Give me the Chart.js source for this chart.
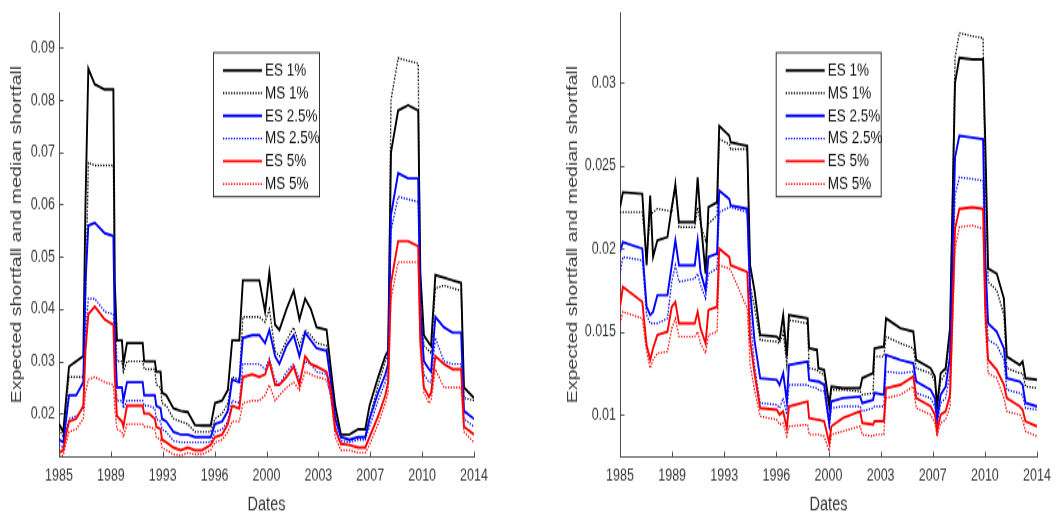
<!DOCTYPE html>
<html lang="en">
<head>
<meta charset="UTF-8">
<title>Expected shortfall and median shortfall</title>
<script src="https://cdn.jsdelivr.net/npm/chart.js"></script>
<style>
  body { margin: 0; background: #fff; }
  #wrap { position: relative; width: 1059px; height: 513px; }
  /* each canvas is drawn 380px high and shown 513px high */
  #wrap canvas { position: absolute; top: 0; height: 513px; }
</style>
</head>
<body>
<div id="wrap">
  <canvas id="leftChart" width="530" height="380" style="left:0; width:530px; height:513px"></canvas>
  <canvas id="rightChart" width="529" height="380" style="left:530px; width:529px; height:513px"></canvas>
</div>

<script>
// ---- data -------------------------------------------------------------
const seriesLabels = ['ES 1%', 'MS 1%', 'ES 2.5%', 'MS 2.5%', 'ES 5%', 'MS 5%'];
const xTickLabels = ['1985', '1989', '1993', '1996', '2000', '2003', '2007', '2010', '2014'];
const leftYTicks = [0.02, 0.03, 0.04, 0.05, 0.06, 0.07, 0.08, 0.09];
const rightYTicks = [0.01, 0.015, 0.02, 0.025, 0.03];

// left panel
const leftDates = [
  1985.0, 1985.3, 1985.5, 1985.7, 1986.2, 1986.7, 1986.85, 1987.05, 1987.5, 1988.2,
  1988.8, 1988.9, 1989.05, 1989.4, 1989.5, 1989.75, 1990.3, 1990.85, 1990.95, 1991.3,
  1991.7, 1991.8, 1992.1, 1992.2, 1992.5, 1993.0, 1993.5, 1994.0, 1994.5, 1995.0,
  1995.6, 1995.9, 1996.4, 1996.8, 1997.1, 1997.6, 1997.85, 1998.5, 1999.0, 1999.4,
  1999.7, 2000.1, 2000.4, 2000.9, 2001.4, 2001.8, 2002.2, 2002.6, 2003.0, 2003.7,
  2004.0, 2004.3, 2004.7, 2005.3, 2005.9, 2006.4, 2006.7, 2007.3, 2007.8, 2008.0,
  2008.2, 2008.7, 2009.4, 2010.1, 2010.25, 2010.5, 2010.85, 2011.0, 2011.3, 2011.9,
  2012.5, 2013.1, 2013.3, 2014.0
];
const leftEs1 = [
  0.018, 0.0165, 0.023, 0.029, 0.030, 0.031, 0.060, 0.086, 0.083, 0.082,
  0.082, 0.045, 0.034, 0.034, 0.0295, 0.0335, 0.0335, 0.0335, 0.030, 0.030,
  0.030, 0.028, 0.028, 0.024, 0.0235, 0.021, 0.0205, 0.0203, 0.0178, 0.0177,
  0.0177, 0.022, 0.0225, 0.0245, 0.034, 0.034, 0.0455, 0.0455, 0.0455, 0.0395,
  0.047, 0.037, 0.036, 0.040, 0.0435, 0.038, 0.042, 0.040, 0.0365, 0.036,
  0.0285, 0.0215, 0.016, 0.016, 0.017, 0.017, 0.0215, 0.027, 0.031, 0.032,
  0.070, 0.078, 0.079, 0.078, 0.047, 0.035, 0.0335, 0.033, 0.0465, 0.046,
  0.0455, 0.045, 0.025, 0.023
];
const leftMs1 = [
  0.017, 0.0155, 0.0215, 0.027, 0.027, 0.027, 0.040, 0.068, 0.0675, 0.0675,
  0.0675, 0.040, 0.030, 0.030, 0.028, 0.030, 0.030, 0.030, 0.0285, 0.0285,
  0.0285, 0.0255, 0.025, 0.022, 0.0215, 0.019, 0.0185, 0.018, 0.0165, 0.0165,
  0.0165, 0.019, 0.020, 0.022, 0.027, 0.0265, 0.0385, 0.0385, 0.0385, 0.0375,
  0.040, 0.032, 0.031, 0.034, 0.0365, 0.033, 0.036, 0.035, 0.0335, 0.033,
  0.027, 0.020, 0.0155, 0.015, 0.0155, 0.0155, 0.019, 0.0255, 0.030, 0.031,
  0.080, 0.088, 0.0875, 0.087, 0.045, 0.033, 0.032, 0.0315, 0.044, 0.0445,
  0.044, 0.0435, 0.023, 0.0225
];
const leftEs25 = [
  0.015, 0.0145, 0.019, 0.0235, 0.0235, 0.026, 0.045, 0.056, 0.0565, 0.0545,
  0.054, 0.035, 0.025, 0.025, 0.0225, 0.026, 0.026, 0.026, 0.0235, 0.0235,
  0.0235, 0.0215, 0.021, 0.019, 0.0185, 0.0165, 0.016, 0.016, 0.0155, 0.0155,
  0.0155, 0.018, 0.0185, 0.0205, 0.0265, 0.026, 0.0345, 0.035, 0.035, 0.0335,
  0.036, 0.031, 0.0295, 0.033, 0.035, 0.031, 0.0355, 0.034, 0.0325, 0.032,
  0.026, 0.019, 0.0155, 0.015, 0.0155, 0.0155, 0.019, 0.024, 0.0275, 0.0295,
  0.058, 0.066, 0.065, 0.065, 0.040, 0.030, 0.0285, 0.028, 0.0385, 0.0365,
  0.0355, 0.0355, 0.0205, 0.019
];
const leftMs25 = [
  0.014, 0.0135, 0.017, 0.019, 0.0195, 0.021, 0.035, 0.042, 0.042, 0.0395,
  0.039, 0.030, 0.0225, 0.0225, 0.021, 0.0225, 0.0225, 0.0225, 0.0215, 0.0215,
  0.021, 0.019, 0.0185, 0.017, 0.0165, 0.0148, 0.0145, 0.0145, 0.0145, 0.0145,
  0.0145, 0.0165, 0.017, 0.0185, 0.0225, 0.022, 0.0295, 0.0295, 0.0295, 0.0285,
  0.0305, 0.0265, 0.0255, 0.028, 0.0295, 0.0265, 0.030, 0.0295, 0.028, 0.0275,
  0.023, 0.0175, 0.0148, 0.0145, 0.015, 0.015, 0.0175, 0.0225, 0.026, 0.028,
  0.055, 0.0615, 0.061, 0.0605, 0.036, 0.0275, 0.026, 0.026, 0.0345, 0.030,
  0.0295, 0.0295, 0.019, 0.0175
];
const leftEs5 = [
  0.0125, 0.013, 0.016, 0.0185, 0.019, 0.0215, 0.032, 0.039, 0.0405, 0.038,
  0.037, 0.027, 0.0195, 0.0185, 0.0175, 0.0215, 0.0215, 0.0215, 0.020, 0.020,
  0.019, 0.0175, 0.017, 0.015, 0.0145, 0.0135, 0.013, 0.0135, 0.013, 0.013,
  0.014, 0.0155, 0.016, 0.018, 0.0215, 0.021, 0.027, 0.0275, 0.027, 0.0275,
  0.030, 0.0255, 0.0255, 0.027, 0.029, 0.0255, 0.031, 0.0295, 0.029, 0.028,
  0.0245, 0.017, 0.0142, 0.014, 0.0135, 0.0135, 0.0155, 0.0195, 0.0235, 0.026,
  0.045, 0.053, 0.053, 0.052, 0.034, 0.025, 0.0232, 0.024, 0.031, 0.0295,
  0.0285, 0.0285, 0.0175, 0.016
];
const leftMs5 = [
  0.012, 0.012, 0.0145, 0.0165, 0.017, 0.019, 0.024, 0.0265, 0.027, 0.026,
  0.0255, 0.021, 0.017, 0.0165, 0.0155, 0.018, 0.018, 0.018, 0.0175, 0.0175,
  0.017, 0.0155, 0.015, 0.0135, 0.013, 0.0122, 0.012, 0.0125, 0.0122, 0.0122,
  0.013, 0.0145, 0.015, 0.0165, 0.0185, 0.0185, 0.022, 0.0225, 0.0225, 0.0235,
  0.0255, 0.0225, 0.0235, 0.025, 0.026, 0.0245, 0.028, 0.0275, 0.027, 0.0265,
  0.0235, 0.0155, 0.013, 0.013, 0.0125, 0.0125, 0.014, 0.018, 0.022, 0.024,
  0.042, 0.049, 0.049, 0.049, 0.032, 0.024, 0.022, 0.0225, 0.0285, 0.025,
  0.025, 0.025, 0.0165, 0.0145
];

// right panel
const rightDates = [
  1985.0, 1985.2, 1986.55, 1986.85, 1987.1, 1987.3, 1987.6, 1988.3, 1988.6, 1988.85,
  1989.1, 1990.2, 1990.4, 1990.6, 1990.95, 1991.15, 1991.75, 1991.9, 1992.6, 1992.7,
  1993.85, 1994.05, 1994.35, 1994.75, 1995.9, 1996.1, 1996.35, 1996.6, 1996.75, 1998.05,
  1998.15, 1998.7, 1998.8, 1999.2, 1999.55, 1999.7, 2000.5, 2001.7, 2001.85, 2002.6,
  2002.7, 2003.35, 2003.5, 2004.5, 2005.4, 2005.6, 2006.6, 2006.9, 2007.05, 2007.3,
  2007.65, 2007.95, 2008.3, 2008.6, 2009.5, 2010.25, 2010.4, 2010.6, 2011.2, 2011.7,
  2011.9, 2012.8, 2013.0, 2013.2, 2014.0
];
const rightEs1 = [
  0.0225, 0.0234, 0.0233, 0.019, 0.0232, 0.0195, 0.0205, 0.0207, 0.0225, 0.0238,
  0.0216, 0.0216, 0.0243, 0.0218, 0.0185, 0.0225, 0.0228, 0.0274, 0.0268, 0.0264,
  0.0262, 0.019, 0.0175, 0.0148, 0.0147, 0.0145, 0.016, 0.0135, 0.016, 0.0158,
  0.014, 0.0139, 0.0128, 0.0127, 0.0106, 0.0117, 0.0116, 0.0116, 0.0122, 0.0125,
  0.014, 0.0141, 0.0158, 0.0152, 0.015, 0.0133, 0.0128, 0.0123, 0.0105, 0.0125,
  0.0128, 0.0152, 0.030, 0.0315, 0.0314, 0.0314, 0.0265, 0.0188, 0.0185, 0.017,
  0.0135, 0.013, 0.0132, 0.0122, 0.0121
];
const rightMs1 = [
  0.0222, 0.0222, 0.0222, 0.0195, 0.022, 0.0222, 0.0224, 0.0223, 0.0222, 0.024,
  0.0213, 0.0213, 0.0225, 0.0215, 0.0205, 0.0215, 0.022, 0.0266, 0.0263, 0.026,
  0.026, 0.0178, 0.0165, 0.0145, 0.0144, 0.0143, 0.015, 0.013, 0.0157, 0.0155,
  0.0128, 0.0127, 0.0126, 0.0124, 0.0104, 0.0115, 0.0115, 0.0114, 0.0112, 0.0113,
  0.0135, 0.0135, 0.0147, 0.0143, 0.014, 0.0128, 0.0125, 0.012, 0.0103, 0.012,
  0.0125, 0.0148, 0.0315, 0.033, 0.0328, 0.0327, 0.024, 0.018, 0.0175, 0.016,
  0.0128, 0.0125, 0.0125, 0.0117, 0.0116
];
const rightEs25 = [
  0.0198, 0.0204, 0.0200, 0.0165, 0.0160, 0.0162, 0.0172, 0.0172, 0.0190, 0.0205,
  0.0190, 0.0190, 0.0205, 0.0186, 0.0175, 0.0195, 0.0197, 0.0235, 0.0230, 0.0226,
  0.0224, 0.0175, 0.0145, 0.0122, 0.0121, 0.0118, 0.0125, 0.0108, 0.0130, 0.0132,
  0.0121, 0.0120, 0.0120, 0.0118, 0.0095, 0.0108, 0.0110, 0.0111, 0.0107, 0.0109,
  0.0113, 0.0112, 0.0136, 0.0133, 0.0131, 0.0120, 0.0115, 0.0110, 0.0097, 0.0112,
  0.0117, 0.0135, 0.0255, 0.0268, 0.0267, 0.0266, 0.0195, 0.0155, 0.0150, 0.0140,
  0.0122, 0.0120, 0.0118, 0.0107, 0.0105
];
const rightMs25 = [
  0.0185, 0.0195, 0.0193, 0.0160, 0.0155, 0.0155, 0.0155, 0.0158, 0.0180, 0.0190,
  0.0180, 0.0182, 0.0185, 0.0178, 0.0170, 0.0185, 0.0188, 0.0222, 0.0225, 0.0225,
  0.0222, 0.0160, 0.0130, 0.0107, 0.0106, 0.0104, 0.0110, 0.0100, 0.0118, 0.0118,
  0.0117, 0.0116, 0.0115, 0.0114, 0.0093, 0.0104, 0.0105, 0.0105, 0.0102, 0.0104,
  0.0105, 0.0105, 0.0126, 0.0125, 0.0126, 0.0113, 0.0110, 0.0105, 0.0094, 0.0107,
  0.0110, 0.0125, 0.0232, 0.0243, 0.0242, 0.0241, 0.0180, 0.0145, 0.0142, 0.0133,
  0.0115, 0.0113, 0.0112, 0.0104, 0.0103
];
const rightEs5 = [
  0.0165, 0.0177, 0.0168, 0.0142, 0.0133, 0.0140, 0.0148, 0.0150, 0.0165, 0.0168,
  0.0155, 0.0155, 0.0162, 0.0152, 0.0143, 0.0163, 0.0165, 0.0200, 0.0195, 0.0190,
  0.0186, 0.0145, 0.0125, 0.0104, 0.0103, 0.0100, 0.0102, 0.0092, 0.0105, 0.0108,
  0.0098, 0.0097, 0.0097, 0.0096, 0.0083, 0.0093, 0.0098, 0.0102, 0.0095, 0.0094,
  0.0096, 0.0096, 0.0116, 0.0118, 0.0123, 0.0110, 0.0105, 0.0100, 0.0090, 0.0100,
  0.0102, 0.0112, 0.0212, 0.0224, 0.0225, 0.0224, 0.0165, 0.0133, 0.0127, 0.0118,
  0.0110, 0.0105, 0.0103, 0.0096, 0.0093
];
const rightMs5 = [
  0.0155, 0.0162, 0.0158, 0.0138, 0.0128, 0.0133, 0.0137, 0.0138, 0.0152, 0.0158,
  0.0147, 0.0147, 0.0150, 0.0143, 0.0137, 0.0148, 0.0150, 0.0190, 0.0188, 0.0187,
  0.0164, 0.0130, 0.0115, 0.0099, 0.0097, 0.0094, 0.0095, 0.0087, 0.0093, 0.0094,
  0.0088, 0.0088, 0.0088, 0.0087, 0.0078, 0.0088, 0.0090, 0.0093, 0.0088, 0.0087,
  0.0088, 0.0088, 0.0110, 0.0112, 0.0117, 0.0104, 0.0100, 0.0095, 0.0087, 0.0095,
  0.0097, 0.0105, 0.0200, 0.0213, 0.0214, 0.0212, 0.0155, 0.0125, 0.0122, 0.0110,
  0.0102, 0.0100, 0.0097, 0.0090, 0.0087
];

// ---- styles -----------------------------------------------------------
const lineColors = ['#000000', '#000000', '#0000ff', '#0000ff', '#ff0000', '#ff0000'];
const axisColor = '#4d4d4d';
const textColor = '#383838';
const fontFamily = '"Liberation Sans", Arial, sans-serif';

Chart.defaults.font.family = fontFamily;
Chart.defaults.color = textColor;

// legend with a framed box, drawn inside the plot area
const boxLegend = {
  id: 'boxLegend',
  afterDatasetsDraw(chart, args, opts) {
    const ctx = chart.ctx;
    ctx.save();
    ctx.fillStyle = '#ffffff';
    ctx.fillRect(opts.left, opts.top, opts.width, opts.height);
    ctx.strokeStyle = '#333333';
    ctx.lineWidth = 1;
    ctx.strokeRect(opts.left + 0.5, opts.top + 0.5, opts.width, opts.height);
    ctx.font = '13.5px ' + fontFamily;
    ctx.textBaseline = 'middle';
    chart.data.datasets.forEach((ds, i) => {
      const y = opts.top + 13.7 + i * opts.rowGap;
      ctx.strokeStyle = ds.borderColor;
      ctx.lineWidth = ds.borderWidth;
      ctx.setLineDash(ds.borderDash);
      ctx.beginPath();
      ctx.moveTo(opts.left + 10, y);
      ctx.lineTo(opts.left + 49, y);
      ctx.stroke();
      ctx.setLineDash([]);
      ctx.fillStyle = '#111111';
      ctx.fillText(ds.label, opts.left + 52, y);
    });
    ctx.restore();
  }
};

// short tick marks pointing into the plot
const innerTicks = {
  id: 'innerTicks',
  afterDraw(chart) {
    const { ctx, chartArea, scales } = chart;
    ctx.save();
    ctx.strokeStyle = axisColor;
    ctx.lineWidth = 1;
    ctx.beginPath();
    scales.x.ticks.forEach(t => {
      const x = Math.round(scales.x.getPixelForValue(t.value)) + 0.5;
      ctx.moveTo(x, chartArea.bottom);
      ctx.lineTo(x, chartArea.bottom - 4);
    });
    scales.y.ticks.forEach(t => {
      const y = Math.round(scales.y.getPixelForValue(t.value)) + 0.5;
      ctx.moveTo(chartArea.left, y);
      ctx.lineTo(chartArea.left + 4.5, y);
    });
    ctx.stroke();
    ctx.restore();
  }
};

function makePanel(canvasId, dates, values, cfg) {
  const datasets = values.map((vals, i) => {
    const dotted = i % 2 === 1;
    return {
      label: seriesLabels[i],
      data: dates.map((d, k) => ({ x: d, y: vals[k] })),
      borderColor: lineColors[i],
      borderWidth: dotted ? 1.4 : 1.9,
      borderDash: dotted ? [1.3, 1.4] : [],
      pointRadius: 0,
      tension: 0,
      order: values.length - i
    };
  });

  return new Chart(document.getElementById(canvasId), {
    type: 'line',
    data: { datasets },
    plugins: [boxLegend, innerTicks],
    options: {
      responsive: false,
      animation: false,
      layout: { padding: { top: 9, right: cfg.rightPad, bottom: 0, left: 0 } },
      plugins: {
        legend: { display: false },
        tooltip: { enabled: false },
        boxLegend: cfg.legend
      },
      scales: {
        x: {
          type: 'linear',
          min: 1985,
          max: 2014,
          afterBuildTicks: s => {
            s.ticks = xTickLabels.map((_, i) => ({ value: 1985 + i * 29 / (xTickLabels.length - 1) }));
          },
          afterFit: s => {
            s.height = 41.5;
            s.paddingLeft = 0;
            s.paddingRight = 0;
          },
          ticks: {
            autoSkip: false,
            maxRotation: 0,
            padding: 7,
            font: { size: 12.5 },
            color: textColor,
            callback: (v, i) => xTickLabels[i]
          },
          grid: { display: false, drawTicks: false },
          border: { color: axisColor, width: 1 },
          title: {
            display: true,
            text: 'Dates',
            color: textColor,
            font: { size: 14.5, lineHeight: 1 },
            padding: { top: 0, bottom: -1 }
          }
        },
        y: {
          min: cfg.yMin,
          max: cfg.yMax,
          afterBuildTicks: s => { s.ticks = cfg.yTicks.map(v => ({ value: v })); },
          afterFit: s => {
            s.width = cfg.axisWidth;
            s.paddingTop = 0;
            s.paddingBottom = 0;
          },
          ticks: {
            padding: 4,
            font: { size: 12.5 },
            color: textColor,
            callback: v => String(Number(v.toFixed(4)))
          },
          grid: { display: false, drawTicks: false },
          border: { color: axisColor, width: 1 },
          title: {
            display: true,
            text: 'Expected shortfall and median shortfall',
            color: textColor,
            font: { size: 14.5, lineHeight: 1 },
            padding: { top: cfg.titlePad, bottom: 0 }
          }
        }
      }
    }
  });
}

makePanel('leftChart', leftDates,
  [leftEs1, leftMs1, leftEs25, leftMs25, leftEs5, leftMs5], {
    yMin: 0.0117, yMax: 0.0968, yTicks: leftYTicks,
    axisWidth: 59, titlePad: 10, rightPad: 56,
    legend: { left: 213, top: 38.5, width: 106, height: 106.7, rowGap: 16.8 }
  });

makePanel('rightChart', rightDates,
  [rightEs1, rightMs1, rightEs25, rightMs25, rightEs5, rightMs5], {
    yMin: 0.00745, yMax: 0.03425, yTicks: rightYTicks,
    axisWidth: 90, titlePad: 36, rightPad: 22,
    legend: { left: 245.7, top: 38.5, width: 105, height: 106.7, rowGap: 16.8 }
  });
</script>
</body>
</html>
